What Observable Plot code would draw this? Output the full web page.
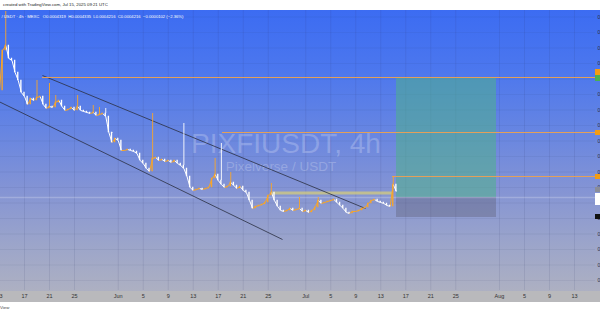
<!DOCTYPE html>
<html><head><meta charset="utf-8">
<script src="https://cdn.jsdelivr.net/npm/d3@7"></script>
<script src="https://cdn.jsdelivr.net/npm/@observablehq/plot@0.6"></script>
<style>
html,body{margin:0;padding:0;background:#fff;width:600px;height:315px;overflow:hidden;font-family:"Liberation Sans",Arial,sans-serif;}
#top{height:10px;line-height:10px;font-size:4.3px;color:#222;padding-left:3px;white-space:nowrap;}
#chart{height:292px;overflow:hidden;}
#chart svg{display:block;}
#bottom{height:13px;line-height:12px;font-size:4.3px;color:#444;white-space:nowrap;}
</style></head><body>
<div id="top"></div>
<div id="chart"></div>
<div id="bottom"></div>
<script>
// ---- data (prices in units of 1e-6 USDT) ----
const credit = "created with TradingView.com, Jul 15, 2025 09:21 UTC";
const footer = "View";
const symbolName = "PIXFIUSDT, 4h";
const pairName = "Pixelverse / USDT";
const legendPrefix = "/ USDT · 4h · MEXC";
const legendKeys = ["O", "H", "L", "C"];
const legendVals = ["0.0004319", "0.0004335", "0.0004216", "0.0004216"];
const legendChange = "−0.0000102 (−2.36%)";

const seriesStart = "2025-05-13T00:00:00Z";
const stepHours = 12;
const closes = [624,704,714,688,684,660,644,620,612,596,608,604,610,612,596,588,592,590,600,604,
  592,584,586,590,584,592,584,582,580,578,580,574,576,578,572,540,520,528,524,504,
  504,506,504,502,498,484,478,468,462,488,490,484,486,482,484,480,484,478,474,468,
  452,430,424,426,428,426,428,430,448,456,444,436,430,432,440,434,428,432,424,420,
  404,388,392,394,396,400,414,420,404,392,384,382,384,388,384,386,388,382,384,380,
  384,390,404,398,400,402,404,406,400,394,388,380,378,382,382,384,388,390,398,404,
  406,402,400,398,394,392,436,422];
const spikeIndex = [2,12,16,18,25,30,32,34,36,49,59,69,71,74,87,96,102,126];
const spikeHigh  = [782,644,638,614,614,594,590,588,538,578,558,488,518,460,438,410,410,452];

const tickDates  = ["2025-05-13","2025-05-17","2025-05-21","2025-05-25","2025-06-01","2025-06-05","2025-06-09","2025-06-13","2025-06-17","2025-06-21","2025-06-25","2025-07-01","2025-07-05","2025-07-09","2025-07-13","2025-07-17","2025-07-21","2025-07-25","2025-08-01","2025-08-05","2025-08-09","2025-08-13"];
const tickLabels = ["13","17","21","25","Jun","5","9","13","17","21","25","Jul","5","9","13","17","21","25","Aug","5","9","13"];
const gridPrices = [244,275,306,337,368,399,430,461,492,523,554,585,616,647,678,709,740,771];

const levelPrices = [650, 540, 452];
const levelStarts = ["2025-05-19T21:00:00Z","2025-06-17T16:20:00Z","2025-07-14T21:00:00Z"];

const channelFrom  = ["2025-05-19T21:00:00Z","2025-05-11T13:30:00Z"];
const channelFromP = [654, 610];
const channelTo    = ["2025-07-10T13:30:00Z","2025-06-27T06:45:00Z"];
const channelToP   = [388, 326];

const zoneStart = "2025-06-25T16:20:00Z", zoneEnd = "2025-07-14T21:00:00Z";
const zoneLow = 415, zoneHigh = 421;

const posStart = "2025-07-15T12:30:00Z", posEnd = "2025-07-31T12:30:00Z";
const posTarget = 650, posEntry = 410, posStop = 370;

const tagPrices = [660, 648, 539, 451, 425, 406, 371];
const tagHalf   = [6, 6, 5, 5, 5, 12, 5];
const tagColors = ["#f39c12","#4caf50","#f39c12","#f39c12","#8a8d99","#ffffff","#111111"];

// ---- build ----
const U = 1e-6;
const t0 = +new Date(seriesStart);
const H = 3600e3;
const candles = closes.map((c, i) => {
  const o = i === 0 ? c : closes[i - 1];
  return {t: new Date(t0 + i * stepHours * H), o: o * U, c: c * U, up: c >= o};
});
const moves = candles.slice(1).map((d, i) => ({
  x1: candles[i].t, y1: candles[i].c, x2: d.t, y2: d.c, up: d.up
}));
const wicks = spikeIndex.map((k, j) => ({
  t: candles[k].t, hi: spikeHigh[j] * U,
  base: Math.max(candles[k].o, candles[k].c), up: candles[k].up
}));
const ORANGE = "#f7a52a";
const xDomain = [new Date(Date.UTC(2025,4,13,3,50,24)), new Date(Date.UTC(2025,7,16,8,38,24))];
const xEnd = xDomain[1];
const xBeyond = new Date(Date.UTC(2025,7,22));
const ticks = tickDates.map((d, i) => ({t: new Date(d), label: tickLabels[i]}));
const levels = levelPrices.map((p, i) => ({p: p * U, from: new Date(levelStarts[i])}));
const channels = channelFrom.map((d, i) => ({
  x1: new Date(d), y1: channelFromP[i] * U, x2: new Date(channelTo[i]), y2: channelToP[i] * U
}));
const tags = tagPrices.map((p, i) => ({p: p * U, h: tagHalf[i] * U, color: tagColors[i]}));
const fmt = d3.format(".7f");
const legendText = legendPrefix + "   " + legendKeys.map((k, i) => k + legendVals[i]).join("  ") + "  " + legendChange;

document.getElementById("top").textContent = credit;
document.getElementById("bottom").textContent = footer;

const colorOf = d => d.up ? ORANGE : "#ffffff";

const chart = Plot.plot({
  width: 600, height: 292,
  marginTop: 0, marginBottom: 12, marginLeft: 0, marginRight: 5,
  x: {type: "utc", domain: xDomain, axis: null},
  y: {domain: [224 * U, 784 * U], axis: null},
  color: {type: "identity"},
  style: {
    background: "linear-gradient(to bottom, #3c6cf2 0px, #4c77ee 60px, #6685e2 120px, #8494d4 180px, #9ca5ca 235px, #adb0c2 281px, #b9b9bc 281px, #b9b9bc 292px)",
    fontFamily: "Liberation Sans, Arial, sans-serif",
    overflow: "hidden"
  },
  marks: [
    Plot.ruleX(ticks, {x: "t", stroke: "#2a3560", strokeOpacity: 0.1}),
    Plot.ruleY(gridPrices, {y: d => d * U, stroke: "#2a3560", strokeOpacity: 0.07}),
    // watermark
    Plot.text([symbolName], {frameAnchor: "middle", dx: -12, dy: -6, fontSize: 28, fill: "#ffffff", fillOpacity: 0.22}),
    Plot.text([pairName], {frameAnchor: "middle", dx: -17, dy: 16, fontSize: 13.5, fill: "#ffffff", fillOpacity: 0.22}),
    // position box
    Plot.rect([0], {x1: () => new Date(posStart), x2: () => new Date(posEnd), y1: () => posEntry * U, y2: () => posTarget * U, fill: "#4fb08a", fillOpacity: 0.55}),
    Plot.rect([0], {x1: () => new Date(posStart), x2: () => new Date(posEnd), y1: () => posStop * U, y2: () => posEntry * U, fill: "#5a5a6e", fillOpacity: 0.35}),
    Plot.ruleY([posEntry * U], {stroke: "#ffffff", strokeOpacity: 0.22, strokeWidth: 1.3}),
    // zone
    Plot.rect([0], {x1: () => new Date(zoneStart), x2: () => new Date(zoneEnd), y1: () => zoneLow * U, y2: () => zoneHigh * U, fill: "#d8d078", fillOpacity: 0.7}),
    // channel
    Plot.link(channels, {x1: "x1", y1: "y1", x2: "x2", y2: "y2", stroke: "#2b2f42", strokeOpacity: 0.8, strokeWidth: 1}),
    // levels
    Plot.ruleY(levels, {y: "p", x1: "from", x2: () => xEnd, stroke: "#e3a05a", strokeWidth: 1}),
    // price trace: wicks, connecting moves, candle bodies
    Plot.ruleX(wicks, {x: "t", y1: "base", y2: "hi", stroke: colorOf, strokeWidth: 0.9}),
    Plot.link(moves, {x1: "x1", y1: "y1", x2: "x2", y2: "y2", stroke: colorOf, strokeWidth: 1}),
    Plot.rect(candles, {
      x1: d => new Date(+d.t - 2.6 * H), x2: d => new Date(+d.t + 2.6 * H),
      y1: d => Math.min(d.o, d.c) - 0.5 * U, y2: d => Math.max(d.o, d.c) + 0.5 * U,
      fill: colorOf
    }),
    // legend
    Plot.text([legendText], {frameAnchor: "top-left", dx: 1, dy: 5, fontSize: 4.2, fill: "#ffffff", textAnchor: "start"}),
    // time axis labels
    Plot.text(ticks, {x: "t", text: "label", frameAnchor: "bottom", dy: 7, fontSize: 5.5, fill: "#333333"}),
    // price axis (cut off at the right edge)
    Plot.text(gridPrices, {x: () => xEnd, y: d => d * U, text: d => fmt(d * U), dx: 2, textAnchor: "start", fontSize: 5, fill: "#2a2e39"}),
    Plot.rect(tags, {x1: () => xEnd, x2: () => xBeyond, y1: d => d.p - d.h, y2: d => d.p + d.h, fill: "color"})
  ]
});
document.getElementById("chart").append(chart);
</script>
</body></html>
